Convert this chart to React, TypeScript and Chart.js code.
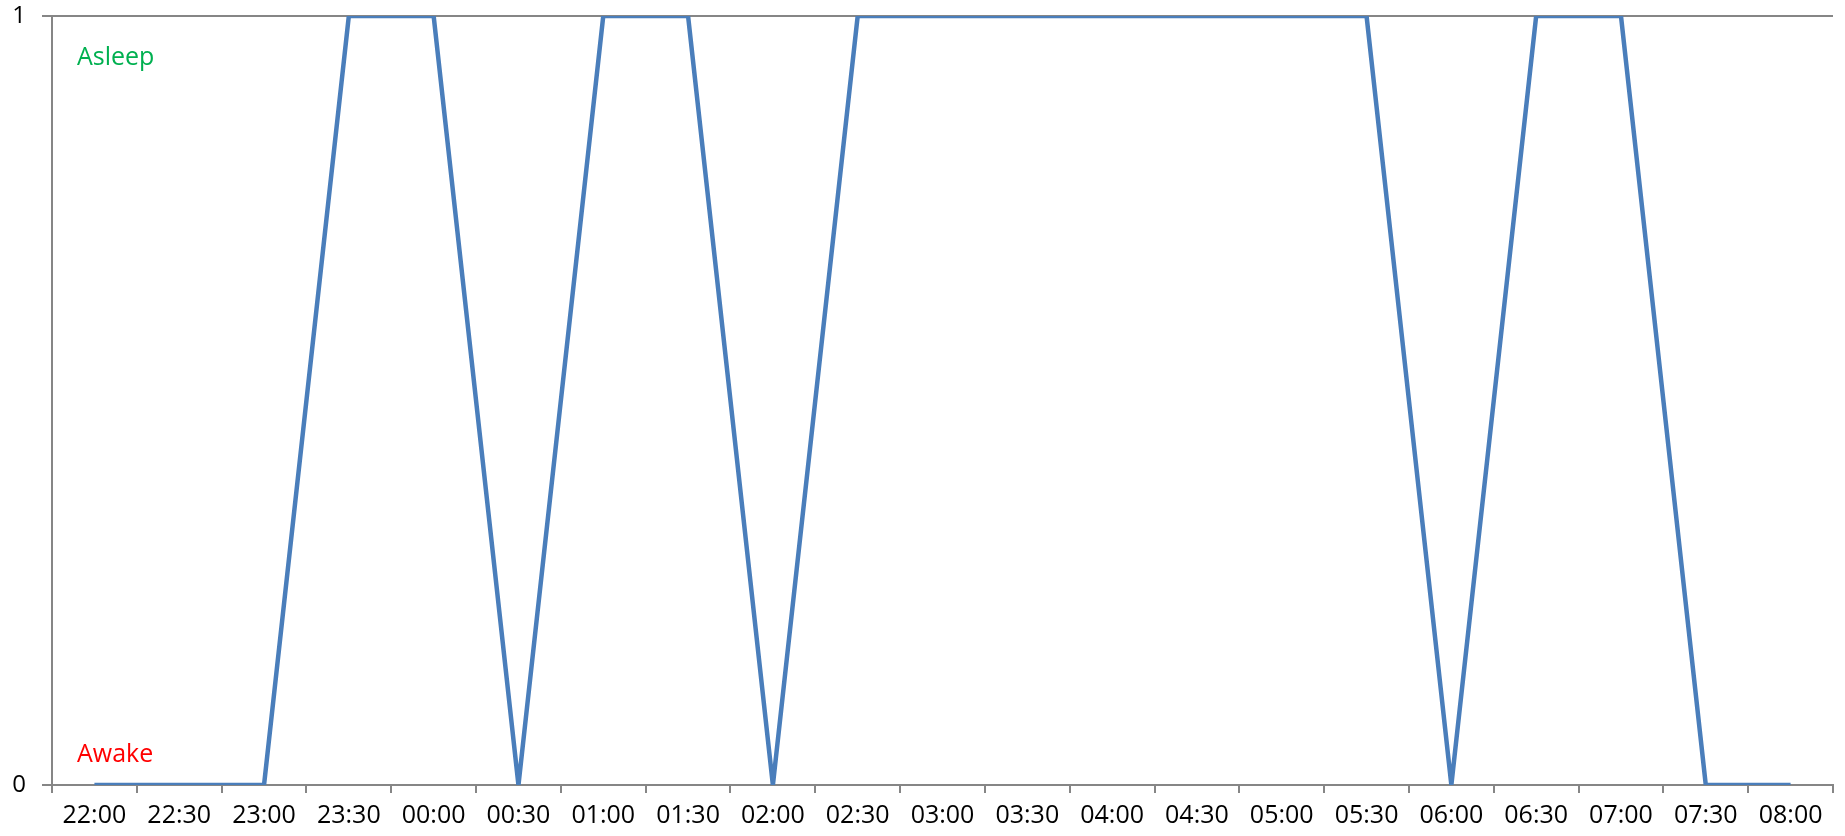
import React, { useEffect, useRef } from "react";
import { Chart, registerables } from "chart.js";

Chart.register(...registerables);

// Half-hour time slots across the night
const timeLabels = [
  "22:00", "22:30", "23:00", "23:30", "00:00", "00:30", "01:00",
  "01:30", "02:00", "02:30", "03:00", "03:30", "04:00", "04:30",
  "05:00", "05:30", "06:00", "06:30", "07:00", "07:30", "08:00",
];

// Sleep state per slot: 1 = asleep, 0 = awake
const sleepState = [0, 0, 0, 1, 1, 0, 1, 1, 0, 1, 1, 1, 1, 1, 1, 1, 0, 1, 1, 0, 0];

const yTicks = [0, 1];

const FONT = "'Open Sans', 'Liberation Sans', sans-serif";
const AXIS_GRAY = "#868686";

// Writes the state names inside the plot area
const stateLabelsPlugin = {
  id: "stateLabels",
  afterDatasetsDraw(chart: any) {
    const { ctx, chartArea, scales } = chart;
    ctx.save();
    ctx.font = `25px ${FONT}`;
    ctx.textAlign = "left";
    ctx.textBaseline = "alphabetic";
    ctx.fillStyle = "#00B050";
    ctx.fillText("Asleep", chartArea.left + 25, scales.y.getPixelForValue(1) + 49);
    ctx.fillStyle = "#FF0000";
    ctx.fillText("Awake", chartArea.left + 25, scales.y.getPixelForValue(0) - 23);
    ctx.restore();
  },
};

export default function App() {
  const canvasRef = useRef<HTMLCanvasElement | null>(null);

  useEffect(() => {
    if (!canvasRef.current) return;
    const chart = new Chart(canvasRef.current, {
      type: "line",
      data: {
        labels: timeLabels,
        datasets: [
          {
            data: sleepState,
            borderColor: "#4A7EBB",
            borderWidth: 4.5,
            pointRadius: 0,
            tension: 0,
            fill: false,
          },
        ],
      },
      options: {
        responsive: false,
        animation: false,
        layout: { padding: { top: 0, right: 12, left: 0, bottom: 0 } },
        plugins: {
          legend: { display: false },
          tooltip: { enabled: false },
        },
        scales: {
          x: {
            offset: true,
            grid: {
              offset: true,
              drawOnChartArea: false,
              drawTicks: true,
              tickLength: 8,
              color: AXIS_GRAY,
              lineWidth: 2,
            },
            border: { display: true, color: AXIS_GRAY, width: 2 },
            ticks: {
              color: "#000",
              font: { family: FONT, size: 25 },
              padding: 8,
              maxRotation: 0,
              autoSkip: false,
            },
            afterFit(scale: any) {
              scale.height = 51;
            },
          },
          y: {
            min: 0,
            max: 1,
            afterBuildTicks(scale: any) {
              scale.ticks = yTicks.map((v) => ({ value: v }));
            },
            grid: {
              color: AXIS_GRAY,
              lineWidth: 2,
              tickLength: 10,
            },
            border: { display: true, color: AXIS_GRAY, width: 2 },
            ticks: {
              color: "#000",
              font: { family: FONT, size: 24 },
              padding: 16,
            },
            afterFit(scale: any) {
              scale.width = 52;
              scale.paddingTop = 16;
            },
          },
        },
      },
      plugins: [stateLabelsPlugin],
    });
    return () => chart.destroy();
  }, []);

  return (
    <div style={{ position: "fixed", left: 0, top: 0, width: 1845, height: 836, background: "#fff" }}>
      <canvas ref={canvasRef} width={1845} height={836} style={{ display: "block" }} />
    </div>
  );
}
